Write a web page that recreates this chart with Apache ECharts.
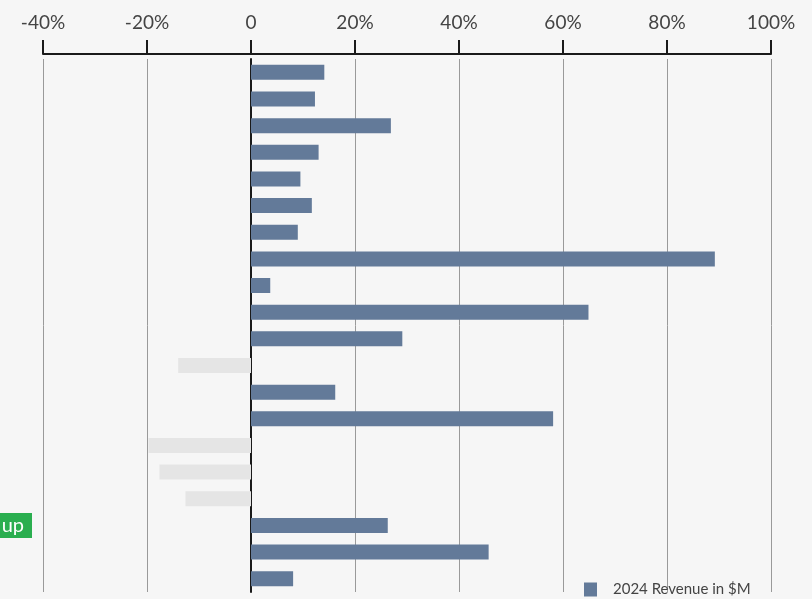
<!DOCTYPE html>
<html>
<head>
<meta charset="utf-8">
<script src="https://cdn.jsdelivr.net/npm/echarts@6/dist/echarts.min.js"></script>
<style>
html,body{margin:0;padding:0;background:#f6f6f6;}
#chart{width:812px;height:599px;}
</style>
</head>
<body>
<div id="chart"></div>
<script>
// Data
var categories = ['r1','r2','r3','r4','r5','r6','r7','r8','r9','r10','r11','r12','r13','r14','r15','r16','r17','r18','r19','r20'];
var highlightLabels = {17: 'up'};
var revenueGrowth = [14.1, 12.3, 26.9, 13.0, 9.5, 11.7, 9.0, 89.2, 3.7, 64.9, 29.1, -14.0, 16.2, 58.1, -19.7, -17.6, -12.6, 26.3, 45.7, 8.1];
var seriesName = '2024 Revenue in $M';
var xTicks = {min: -40, max: 100, interval: 20};

var BLUE = '#637a99', GREY = '#e5e5e5';
var FONT = 'Lato';

var chart = echarts.init(document.getElementById('chart'), null, {renderer: 'canvas'});
chart.setOption({
  backgroundColor: '#f6f6f6',
  animation: false,
  grid: {left: 43, right: 41, top: 59, bottom: 7, containLabel: false, outerBoundsMode: 'none'},
  legend: {
    left: 584, top: 582, padding: 0,
    itemWidth: 13, itemHeight: 14,
    icon: 'rect',
    data: [{name: seriesName, itemStyle: {color: BLUE}}],
    textStyle: {fontFamily: FONT, fontSize: 15, color: '#444', padding: [0, 0, 0, 11]}
  },
  xAxis: {
    type: 'value', position: 'top',
    min: xTicks.min, max: xTicks.max, interval: xTicks.interval,
    offset: 5,
    axisLine: {show: true, lineStyle: {color: '#1a1a1a', width: 2}},
    axisTick: {show: true, length: 14, lineStyle: {color: '#1a1a1a', width: 2}},
    axisLabel: {
      margin: 22, fontFamily: FONT, fontSize: 19, color: '#444',
      formatter: function (v) { return v === 0 ? '0' : v + '%'; }
    },
    splitLine: {show: true, lineStyle: {color: '#9a9a9a', width: 1}}
  },
  yAxis: [{
    type: 'category', inverse: true, data: categories,
    axisLine: {show: false, onZero: false},
    axisTick: {show: false},
    axisLabel: {
      margin: 11,
      formatter: function (v, i) { return highlightLabels[i] ? '{g|' + highlightLabels[i] + '}' : ''; },
      rich: {g: {backgroundColor: '#2aae4f', color: '#fff', fontFamily: FONT, fontSize: 20,
                 padding: [3, 8, 2, 40], lineHeight: 20}}
    }
  }, {
    type: 'category', inverse: true, data: categories, position: 'left',
    axisLine: {show: true, onZero: true, lineStyle: {color: '#1a1a1a', width: 2}},
    axisTick: {show: false}, axisLabel: {show: false}
  }],
  series: [{
    name: seriesName, type: 'bar', barWidth: 15,
    data: revenueGrowth,
    itemStyle: {color: function (p) { return p.value < 0 ? GREY : BLUE; }}
  }]
});
</script>
</body>
</html>
